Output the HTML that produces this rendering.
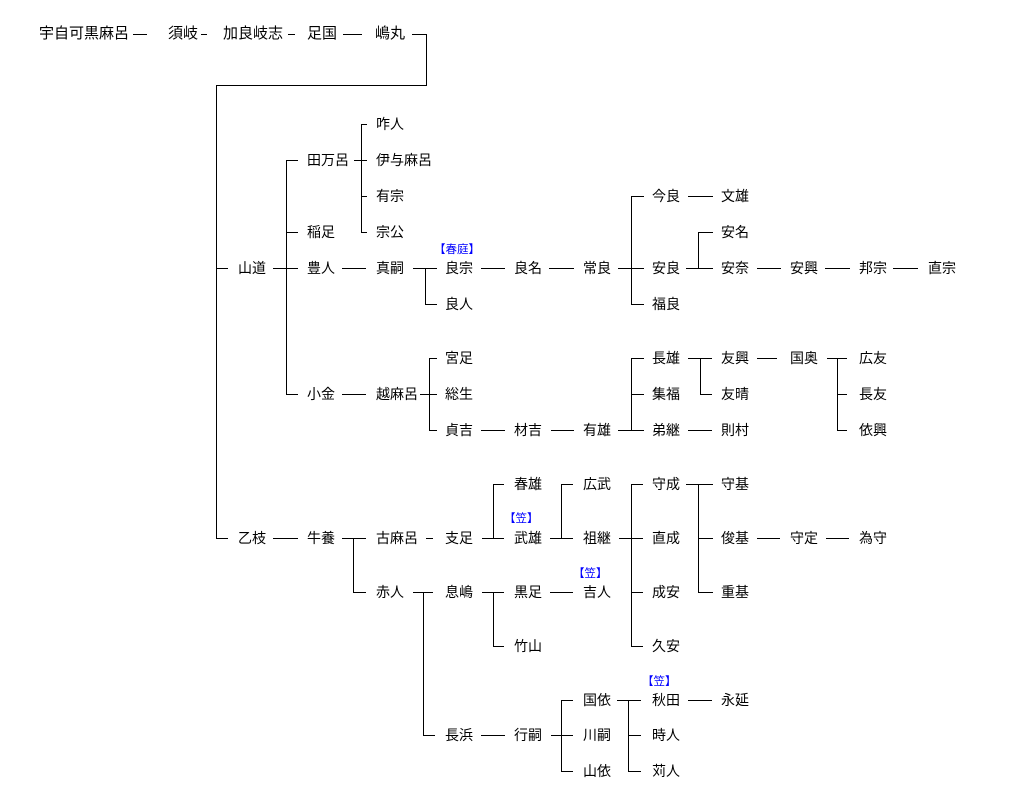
<!DOCTYPE html>
<html><head><meta charset="utf-8"><style>
html,body{margin:0;padding:0;background:#fff;}
#w{position:relative;width:1018px;height:807px;overflow:hidden;background:#fff;}
.t{position:absolute;font-size:14px;line-height:14px;white-space:nowrap;color:#000;font-family:"Liberation Sans","Noto Sans CJK JP",sans-serif;}
.h{position:absolute;font-size:15px;line-height:15px;white-space:nowrap;color:#000;top:26px;font-family:"Liberation Sans","Noto Sans CJK JP",sans-serif;}
.a{position:absolute;font-size:11.5px;line-height:12px;white-space:nowrap;color:#0000ff;font-family:"Liberation Sans","Noto Sans CJK JP",sans-serif;}
.c1{left:238px}.c2{left:307px}.c3{left:376px}.c4{left:445px}.c5{left:514px}.c6{left:583px}.c7{left:652px}.c8{left:721px}.c9{left:790px}.c10{left:859px}.c11{left:928px}
.r124{top:117px}.r160{top:153px}.r196{top:189px}.r232{top:225px}.r268{top:261px}.r304{top:297px}.r358{top:351px}.r394{top:387px}.r430{top:423px}.r484{top:477px}.r538{top:531px}.r592{top:585px}.r646{top:639px}.r700{top:693px}.r735{top:728px}.r771{top:764px}
svg{position:absolute;left:0;top:0;}
</style></head><body><div id="w">
<svg width="1018" height="807" viewBox="0 0 1018 807" shape-rendering="crispEdges"><path fill="none" stroke="#000" stroke-width="1" d="
M133 34.5H147 M201 34.5H207 M288 34.5H295 M343 34.5H362
M412 34.5H426.5V85.5H216.5V538.5H228 M216 268.5H228
M273 268.5H298 M286.5 160V395 M286 160.5H298 M286 232.5H298 M286 394.5H298
M354 160.5H367 M361.5 124V233 M361 124.5H367 M361 196.5H367 M361 232.5H367
M342 268.5H366 M413 268.5H437 M425.5 268V305 M425 304.5H437
M481 268.5H505 M549 268.5H574 M618 268.5H644 M631.5 196V305 M631 196.5H644 M631 304.5H644
M688 196.5H713 M686 268.5H713 M698.5 232V269 M698 232.5H713
M757 268.5H781 M825 268.5H850 M893 268.5H918
M342 394.5H366 M420 394.5H437 M429.5 358V431 M429 358.5H437 M429 430.5H437
M481 430.5H505 M551 430.5H574 M618 430.5H644 M631.5 358V431 M631 358.5H644 M631 394.5H644
M688 358.5H712 M700.5 358V395 M700 394.5H712 M757 358.5H777
M827 358.5H847 M837.5 358V431 M837 394.5H847 M837 430.5H847 M688 430.5H712
M273 538.5H298 M342 538.5H366 M353.5 538V593 M353 592.5H366 M426 538.5H433
M482 538.5H504 M493.5 484V539 M493 484.5H504
M550 538.5H573 M561.5 484V539 M561 484.5H573
M619 538.5H643 M631.5 484V647 M631 484.5H643 M631 592.5H643 M631 646.5H643
M686 484.5H713 M698.5 484V593 M698 538.5H713 M698 592.5H713
M757 538.5H780 M826 538.5H849
M413 592.5H433 M423.5 592V736 M423 735.5H435
M482 592.5H504 M493.5 592V647 M493 646.5H504 M550 592.5H573
M481 735.5H505 M551 735.5H573 M561.5 700V772 M561 700.5H573 M561 771.5H573
M617 700.5H641 M628.5 700V772 M628 735.5H641 M628 771.5H641
M688 700.5H712
"/></svg>

<div class="h" style="left:39px">宇自可黒麻呂</div>
<div class="h" style="left:168px">須岐</div>
<div class="h" style="left:223px">加良岐志</div>
<div class="h" style="left:307px">足国</div>
<div class="h" style="left:375px">嶋丸</div>

<div class="t c1 r268">山道</div>
<div class="t c1 r538">乙枝</div>

<div class="t c2 r160">田万呂</div>
<div class="t c2 r232">稲足</div>
<div class="t c2 r268">豊人</div>
<div class="t c2 r394">小金</div>
<div class="t c2 r538">牛養</div>

<div class="t c3 r124">咋人</div>
<div class="t c3 r160">伊与麻呂</div>
<div class="t c3 r196">有宗</div>
<div class="t c3 r232">宗公</div>
<div class="t c3 r268">真嗣</div>
<div class="t c3 r394">越麻呂</div>
<div class="t c3 r538">古麻呂</div>
<div class="t c3 r592">赤人</div>

<div class="t c4 r268">良宗</div>
<div class="t c4 r304">良人</div>
<div class="t c4 r358">宮足</div>
<div class="t c4 r394">総生</div>
<div class="t c4 r430">貞吉</div>
<div class="t c4 r538">支足</div>
<div class="t c4 r592">息嶋</div>
<div class="t c4 r735">長浜</div>

<div class="t c5 r268">良名</div>
<div class="t c5 r430">材吉</div>
<div class="t c5 r484">春雄</div>
<div class="t c5 r538">武雄</div>
<div class="t c5 r592">黒足</div>
<div class="t c5 r646">竹山</div>
<div class="t c5 r735">行嗣</div>

<div class="t c6 r268">常良</div>
<div class="t c6 r430">有雄</div>
<div class="t c6 r484">広武</div>
<div class="t c6 r538">祖継</div>
<div class="t c6 r592">吉人</div>
<div class="t c6 r700">国依</div>
<div class="t c6 r735">川嗣</div>
<div class="t c6 r771">山依</div>

<div class="t c7 r196">今良</div>
<div class="t c7 r268">安良</div>
<div class="t c7 r304">福良</div>
<div class="t c7 r358">長雄</div>
<div class="t c7 r394">集福</div>
<div class="t c7 r430">弟継</div>
<div class="t c7 r484">守成</div>
<div class="t c7 r538">直成</div>
<div class="t c7 r592">成安</div>
<div class="t c7 r646">久安</div>
<div class="t c7 r700">秋田</div>
<div class="t c7 r735">時人</div>
<div class="t c7 r771">苅人</div>

<div class="t c8 r196">文雄</div>
<div class="t c8 r232">安名</div>
<div class="t c8 r268">安奈</div>
<div class="t c8 r358">友興</div>
<div class="t c8 r394">友晴</div>
<div class="t c8 r430">則村</div>
<div class="t c8 r484">守基</div>
<div class="t c8 r538">俊基</div>
<div class="t c8 r592">重基</div>
<div class="t c8 r700">永延</div>

<div class="t c9 r268">安興</div>
<div class="t c9 r358">国奥</div>
<div class="t c9 r538">守定</div>

<div class="t c10 r268">邦宗</div>
<div class="t c10 r358">広友</div>
<div class="t c10 r394">長友</div>
<div class="t c10 r430">依興</div>
<div class="t c10 r538">為守</div>

<div class="t c11 r268">直宗</div>

<div class="a" style="left:434px;top:244px">【春庭】</div>
<div class="a" style="left:504px;top:513px">【笠】</div>
<div class="a" style="left:573px;top:568px">【笠】</div>
<div class="a" style="left:642px;top:676px">【笠】</div>
</div></body></html>
